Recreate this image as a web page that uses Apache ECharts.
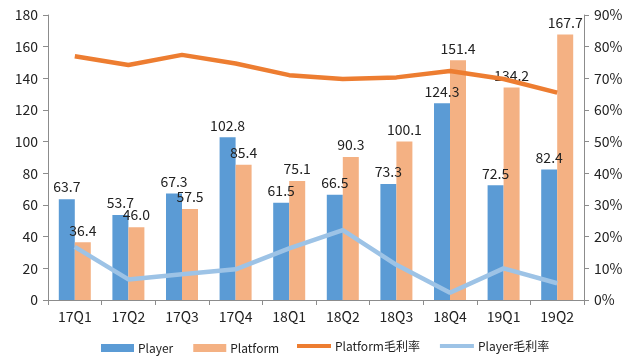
<!DOCTYPE html>
<html><head><meta charset="utf-8">
<script src="https://cdn.jsdelivr.net/npm/echarts@6/dist/echarts.min.js"></script>
<style>html,body{margin:0;padding:0;background:#fff}#c{width:636px;height:362px}</style>
</head><body><div id="c"></div>
<script>
var categories = ['17Q1','17Q2','17Q3','17Q4','18Q1','18Q2','18Q3','18Q4','19Q1','19Q2'];
var playerRevenue = [63.7,53.7,67.3,102.8,61.5,66.5,73.3,124.3,72.5,82.4];
var platformRevenue = [36.4,46.0,57.5,85.4,75.1,90.3,100.1,151.4,134.2,167.7];
var platformMargin = [77.0,74.2,77.4,74.7,71.0,69.8,70.3,72.3,69.8,65.5];
var playerMargin = [16.8,6.5,8.1,9.7,16.3,22.1,11.1,2.3,10.0,5.3];

var font = '"Noto Sans CJK SC", "Noto Sans", sans-serif';
var chart = echarts.init(document.getElementById('c'));
var labelStyle = {show:true, position:'top', fontSize:14, color:'#222', fontFamily:font, formatter:function(p){return p.value.toFixed(1);}};
var legendText = {fontSize:12, color:'#222', fontFamily:font, padding:[0,0,0,-1]};
chart.setOption({
  animation:false,
  textStyle:{fontFamily:font},
  grid:{left:48, right:52, top:15, bottom:62},
  legend:[
    {bottom:3, left:96, itemWidth:33, itemHeight:8, itemGap:20, textStyle:legendText,
     data:[{name:'Player', icon:'rect'},{name:'Platform', icon:'rect'}]},
    {bottom:5, left:292, itemWidth:34, itemHeight:4, itemGap:20, textStyle:legendText,
     data:[{name:'Platform毛利率', icon:'rect'},{name:'Player毛利率', icon:'rect'}]}
  ],
  xAxis:{
    type:'category', data:categories, boundaryGap:true,
    axisLine:{lineStyle:{color:'#8c8c8c'}},
    axisTick:{show:true, alignWithLabel:false, lineStyle:{color:'#8c8c8c'}},
    axisLabel:{fontSize:14, color:'#222', margin:10}
  },
  yAxis:[
    {type:'value', min:0, max:180, interval:20,
     axisLine:{show:true, lineStyle:{color:'#8c8c8c'}},
     axisTick:{show:true, lineStyle:{color:'#8c8c8c'}},
     splitLine:{show:false},
     axisLabel:{fontSize:14, color:'#222', margin:10}},
    {type:'value', min:0, max:90, interval:10,
     axisLine:{show:true, lineStyle:{color:'#8c8c8c'}},
     axisTick:{show:true, lineStyle:{color:'#8c8c8c'}},
     splitLine:{show:false},
     axisLabel:{fontSize:14, color:'#222', margin:10, formatter:'{value}%'}}
  ],
  series:[
    {name:'Player', type:'bar', data:playerRevenue, barWidth:16, barGap:'0%',
     itemStyle:{color:'#5B9BD5'}, label:labelStyle},
    {name:'Platform', type:'bar', data:platformRevenue, barWidth:16, barGap:'0%',
     itemStyle:{color:'#F4B183'}, label:labelStyle},
    {name:'Platform毛利率', type:'line', yAxisIndex:1, data:platformMargin,
     showSymbol:false, symbol:'none', lineStyle:{color:'#ED7D31', width:4.5}, itemStyle:{color:'#ED7D31'}},
    {name:'Player毛利率', type:'line', yAxisIndex:1, data:playerMargin,
     showSymbol:false, symbol:'none', lineStyle:{color:'#9DC3E6', width:4.5}, itemStyle:{color:'#9DC3E6'}}
  ]
});
</script></body></html>
